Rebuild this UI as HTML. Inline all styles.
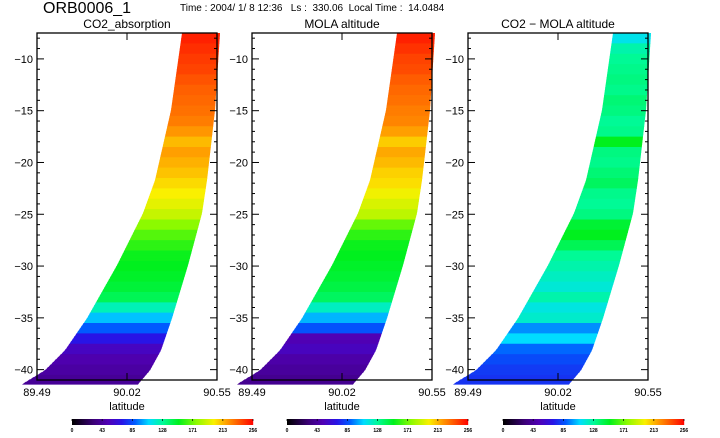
<!DOCTYPE html>
<html><head><meta charset="utf-8"><style>
html,body{margin:0;padding:0;background:#fff;}
svg{display:block;font-family:"Liberation Sans","DejaVu Sans",sans-serif;}
</style></head><body>
<svg id="c" width="720" height="438" viewBox="0 0 720 438">
<text x="43" y="13" font-size="16">ORB0006_1</text>
<text x="180" y="11" font-size="10" xml:space="preserve">Time : 2004/ 1/ 8 12:36   Ls :  330.06  Local Time :  14.0484</text>
</svg>
<script>
// latitude bins (top of bin), one value per degree
const rowTops = [-7.5,-8.5,-9.5,-10.5,-11.5,-12.5,-13.5,-14.5,-15.5,-16.5,-17.5,-18.5,-19.5,-20.5,-21.5,-22.5,-23.5,-24.5,-25.5,-26.5,-27.5,-28.5,-29.5,-30.5,-31.5,-32.5,-33.5,-34.5,-35.5,-36.5,-37.5,-38.5,-39.5,-40.5];
const co2Values  = [248,245,242,240,236,233,231,229,226,220,212,218,214,210,205,200,195,188,175,165,158,152,150,148,145,140,122,104,88,70,55,48,44,40];
const molaValues = [248,244,240,238,234,231,229,226,224,218,208,216,212,207,204,198,192,186,168,158,152,150,148,146,143,138,120,102,86,50,54,46,42,38];
const diffValues = [112,124,128,130,132,130,134,132,128,130,150,132,130,134,138,130,128,132,146,150,140,128,124,120,116,124,114,118,96,108,90,84,80,78];
const panelTitles = ["CO2_absorption","MOLA altitude","CO2 \u2212 MOLA altitude"];
const yTicks = [-10,-15,-20,-25,-30,-35,-40];
const xTickLabels = ["89.49","90.02","90.55"];
const cbarLabels = ["0","43","85","128","171","213","256"];

const NS="http://www.w3.org/2000/svg";
const svgEl=document.getElementById('c');
function mk(t,a,p){const e=document.createElementNS(NS,t);for(const k in a)e.setAttribute(k,a[k]);(p||svgEl).appendChild(e);return e;}
const yMin=-41,yMax=-7.5,plotTop=33,plotBot=380;
function yS(v){return plotTop+(yMax-v)/(yMax-yMin)*(plotBot-plotTop);}
const stops=[[0,[0,0,0]],[30,[60,0,120]],[50,[80,0,180]],[70,[40,20,230]],[88,[0,90,255]],[108,[0,220,255]],[128,[0,250,150]],[150,[0,240,30]],[175,[140,250,0]],[200,[250,240,0]],[220,[255,150,0]],[256,[255,0,0]]];
function cmap(v){for(let i=1;i<stops.length;i++){if(v<=stops[i][0]){const a=stops[i-1],b=stops[i],t=(v-a[0])/(b[0]-a[0]);return 'rgb('+a[1].map((c,j)=>Math.round(c+(b[1][j]-c)*t)).join(',')+')';}}return 'rgb(255,0,0)';}
const Ly=[33,110,180,213,265,318,350,370,384],Lx=[145,134,118,106,80,50,28,8,-15];
const Rx=[183,178,170,165,151,135,124,113,101];
function edge(xs,y){for(let i=1;i<Ly.length;i++){if(y<=Ly[i]){const t=(y-Ly[i-1])/(Ly[i]-Ly[i-1]);return xs[i-1]+(xs[i]-xs[i-1])*t;}}return xs[xs.length-1];}
const panels=[[37,co2Values],[252,molaValues],[468,diffValues]];
panels.forEach((p,pi)=>{
  const x0=p[0],vals=p[1],w=180;
  const g=mk('g',{});
  
  
  const tt=mk('text',{x:x0+w/2,y:28,'font-size':12,'text-anchor':'middle'},g);tt.textContent=panelTitles[pi];
  
  
  vals.forEach((v,i)=>{
    const y1=yS(rowTops[i]),y2=Math.min(yS(rowTops[i]-1),384);
    const n=4;
    for(let s=0;s<n;s++){
      const ya=y1+(y2-y1)*s/n,yb=y1+(y2-y1)*(s+1)/n;
      const r=mk('polygon',{points:`${x0+edge(Lx,ya)},${ya} ${x0+edge(Rx,ya)},${ya} ${x0+edge(Rx,yb)},${yb+0.6} ${x0+edge(Lx,yb)},${yb+0.6}`,fill:cmap(v)},g);
      
      
    }
  });
  const fr=mk('rect',{x:x0,y:plotTop,width:w,height:plotBot-plotTop,fill:'none',stroke:'#000','stroke-width':1.3},g);
  
  
  for(let v=-41;v<=-8;v++){const y=yS(v),L=(v%5===0)?7:3;mk('line',{x1:x0,y1:y,x2:x0+L,y2:y,stroke:'#000'},g);mk('line',{x1:x0+w,y1:y,x2:x0+w-L,y2:y,stroke:'#000'},g);}
  yTicks.forEach(v=>{const t=mk('text',{x:x0-4,y:yS(v)+4,'font-size':11,'text-anchor':'end'},g);t.textContent=v.toString().replace('-','\u2212');
    
    });
  xTickLabels.forEach((s,i)=>{const x=x0+i*w/2;if(i===1){mk('line',{x1:x,y1:plotBot,x2:x,y2:plotBot-7,stroke:'#000'},g);mk('line',{x1:x,y1:plotTop,x2:x,y2:plotTop+7,stroke:'#000'},g);}
    const t=mk('text',{x:x,y:396,'font-size':11,'text-anchor':'middle'},g);t.textContent=s;
    
    });
  const xl=mk('text',{x:x0+w/2,y:410,'font-size':11,'text-anchor':'middle'},g);xl.textContent='latitude';
  
  
  const cx=x0+35,cw=181;
  const cb=mk('g',{},g);
  
  
  for(let k=0;k<cw;k++){mk('rect',{x:cx+k,y:419,width:1.2,height:6,fill:cmap(k/cw*256)},cb);}
  cbarLabels.forEach((s,i)=>{const x=cx+i*cw/6;mk('line',{x1:x,y1:419,x2:x,y2:421,stroke:'#000','stroke-width':0.7},cb);
    const t=mk('text',{x:x,y:432,'font-size':5,'text-anchor':'middle','font-weight':'bold'},cb);t.textContent=s;
    
    });
});
</script>
</body></html>
